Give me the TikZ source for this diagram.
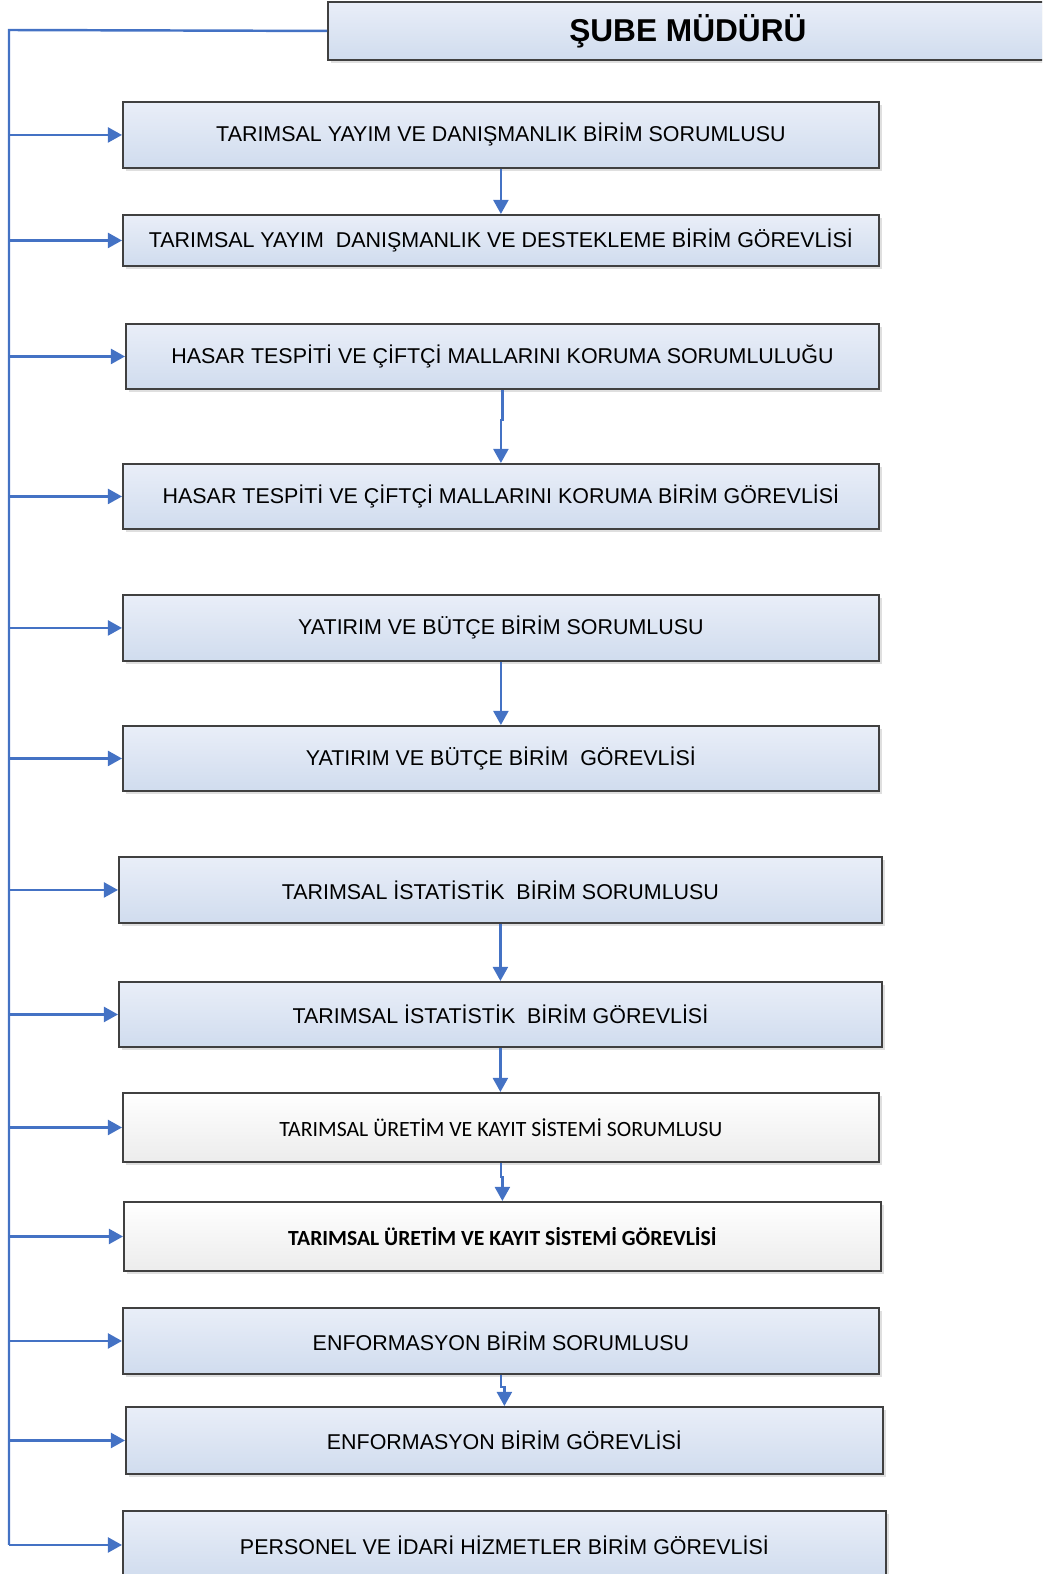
\documentclass[tikz,border=0pt]{standalone}
\usepackage{fontspec}
\setmainfont{Liberation Sans}
\newfontfamily\calfont{Carlito}
\usetikzlibrary{arrows.meta,shadows}

\definecolor{linkblue}{HTML}{4472C4}
\definecolor{boxgray}{HTML}{404040}
\definecolor{boxtop}{HTML}{E9EEF8}
\definecolor{boxbottom}{HTML}{D0DCEE}
\definecolor{plainbottom}{HTML}{ECECEC}

\begin{document}
\begin{tikzpicture}[x=0.02cm, y=-0.02cm,
  box/.style={draw=boxgray, line width=1.1pt, top color=boxtop, bottom color=boxbottom,
    anchor=north west, inner sep=0pt, font=\fontsize{12.2}{14}\selectfont,
    drop shadow={shadow xshift=1.6pt, shadow yshift=-1.6pt, opacity=0.25}},
  plainbox/.style={box, top color=white, bottom color=plainbottom},
  link/.style={linkblue, line width=1.4pt},
  arr/.style={link, -{Triangle[length=8pt,width=8.5pt]}}]

\useasboundingbox (0,0) rectangle (1042,1574);
\clip (0,0) rectangle (1042,1574);

% top box
\node [box, minimum width=14.4cm, minimum height=1.16cm, font=\fontsize{18}{20}\selectfont\bfseries]
  (mudur) at (327,1) {ŞUBE MÜDÜRÜ};

% units
\node [box, minimum width=15.12cm, minimum height=1.32cm] (yayimS) at (122,101)
  {TARIMSAL YAYIM VE DANIŞMANLIK BİRİM SORUMLUSU};
\node [box, minimum width=15.12cm, minimum height=1.02cm] (yayimG) at (122,214)
  {TARIMSAL YAYIM\ \ DANIŞMANLIK VE DESTEKLEME BİRİM GÖREVLİSİ};

\node [box, minimum width=15.06cm, minimum height=1.30cm] (hasarS) at (125,323)
  {HASAR TESPİTİ VE ÇİFTÇİ MALLARINI KORUMA SORUMLULUĞU};
\node [box, minimum width=15.12cm, minimum height=1.30cm] (hasarG) at (122,463)
  {HASAR TESPİTİ VE ÇİFTÇİ MALLARINI KORUMA BİRİM GÖREVLİSİ};

\node [box, minimum width=15.12cm, minimum height=1.32cm] (yatirimS) at (122,594)
  {YATIRIM VE BÜTÇE BİRİM SORUMLUSU};
\node [box, minimum width=15.12cm, minimum height=1.30cm] (yatirimG) at (122,725)
  {YATIRIM VE BÜTÇE BİRİM\ \ GÖREVLİSİ};

\node [box, minimum width=15.26cm, minimum height=1.32cm] (istS) at (118,856)
  {TARIMSAL İSTATİSTİK\ \ BİRİM SORUMLUSU};
\node [box, minimum width=15.26cm, minimum height=1.30cm] (istG) at (118,981)
  {TARIMSAL İSTATİSTİK\ \ BİRİM GÖREVLİSİ};

\node [plainbox, minimum width=15.12cm, minimum height=1.38cm, font=\calfont\fontsize{12.4}{14}\selectfont]
  (kayitS) at (122,1092) {TARIMSAL ÜRETİM VE KAYIT SİSTEMİ SORUMLUSU};
\node [plainbox, minimum width=15.14cm, minimum height=1.38cm, font=\calfont\bfseries\fontsize{12.3}{14}\selectfont]
  (kayitG) at (123,1201) {TARIMSAL ÜRETİM VE KAYIT SİSTEMİ GÖREVLİSİ};

\node [box, minimum width=15.12cm, minimum height=1.32cm] (enfS) at (122,1307)
  {ENFORMASYON BİRİM SORUMLUSU};
\node [box, minimum width=15.14cm, minimum height=1.34cm] (enfG) at (125,1406)
  {ENFORMASYON BİRİM GÖREVLİSİ};

\node [box, minimum width=15.26cm, minimum height=1.36cm] (personel) at (122,1510)
  {PERSONEL VE İDARİ HİZMETLER BİRİM GÖREVLİSİ};

% trunk on the left
\coordinate (trunk) at (9,30);
\draw [link] (mudur.west) -- (trunk) -- (trunk |- personel.west);

\draw [arr] (trunk |- yayimS.west) -- (yayimS.west);
\draw [arr] (trunk |- yayimG.west) -- (yayimG.west);
\draw [arr] (trunk |- hasarS.west) -- (hasarS.west);
\draw [arr] (trunk |- hasarG.west) -- (hasarG.west);
\draw [arr] (trunk |- yatirimS.west) -- (yatirimS.west);
\draw [arr] (trunk |- yatirimG.west) -- (yatirimG.west);
\draw [arr] (trunk |- istS.west) -- (istS.west);
\draw [arr] (trunk |- istG.west) -- (istG.west);
\draw [arr] (trunk |- kayitS.west) -- (kayitS.west);
\draw [arr] (trunk |- kayitG.west) -- (kayitG.west);
\draw [arr] (trunk |- enfS.west) -- (enfS.west);
\draw [arr] (trunk |- enfG.west) -- (enfG.west);
\draw [arr] (trunk |- personel.west) -- (personel.west);

% sorumlu -> gorevli
\draw [arr] (yayimS.south) -- (yayimG.north);
\draw [arr] (hasarS.south) -- ++(0,30) -| (hasarG.north);
\draw [arr] (yatirimS.south) -- (yatirimG.north);
\draw [arr] (istS.south) -- (istG.north);
\draw [arr] (istG.south) -- (istG.south |- kayitS.north);
\draw [arr] (kayitS.south) -- ++(0,14) -| (kayitG.north);
\draw [arr] (enfS.south) -- ++(0,12) -| (enfG.north);

\end{tikzpicture}
\end{document}
